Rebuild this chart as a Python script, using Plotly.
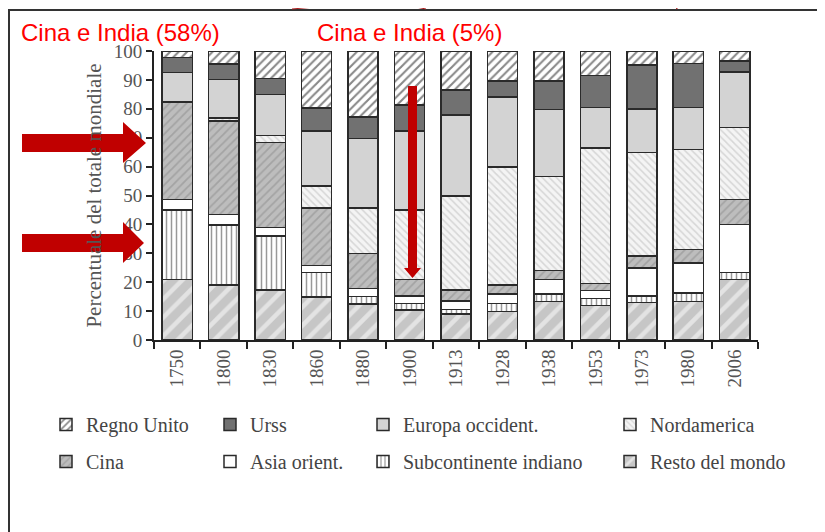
import plotly.graph_objects as go

years = ["1750", "1800", "1830", "1860", "1880", "1900", "1913", "1928",
         "1938", "1953", "1973", "1980", "2006"]

resto_del_mondo = [21.0, 19.0, 17.3, 14.8, 12.5, 10.4, 9.0, 9.8, 13.3, 11.9, 13.0, 13.3, 21.0]
subcontinente_indiano = [24.0, 20.8, 18.7, 8.6, 2.5, 2.3, 1.6, 2.9, 2.6, 2.5, 2.2, 2.9, 2.3]
asia_orient = [3.7, 3.7, 2.9, 2.3, 2.9, 2.5, 2.9, 3.2, 5.1, 2.7, 9.8, 10.5, 16.7]
cina = [33.7, 32.3, 29.5, 19.9, 12.1, 5.8, 3.8, 3.1, 3.0, 2.5, 4.1, 4.7, 8.7]
nordamerica = [0.0, 1.1, 2.3, 7.7, 15.6, 24.0, 32.6, 40.8, 32.5, 46.9, 35.7, 34.6, 24.9]
europa_occident = [10.1, 13.3, 14.3, 19.1, 24.1, 27.4, 28.0, 24.2, 23.3, 13.9, 15.1, 14.4, 19.2]
urss = [5.3, 5.3, 5.5, 7.8, 7.4, 8.9, 8.6, 5.6, 9.9, 11.1, 15.3, 15.3, 3.7]
regno_unito = [2.2, 4.5, 9.5, 19.8, 22.9, 18.7, 13.5, 10.4, 10.3, 8.5, 4.8, 4.3, 3.5]

y_ticks = [0, 10, 20, 30, 40, 50, 60, 70, 80, 90, 100]

# the page body has an 8px margin: work in reference-pixel coordinates, shifted
OFF = 8
W, H = 825 - OFF, 532 - OFF
ML, MT = 154 - OFF, 51 - OFF
MR = W - (758 - OFF)
MB = H - (340 - OFF)
PW, PH = W - ML - MR, H - MT - MB


def px(x):
    return (x - OFF - ML) / PW


def py(y):
    return (H - MB - (y - OFF)) / PH


SERIF = "Liberation Serif"
OUTLINE = dict(color="#2a2a2a", width=1.5)

# name, values, colour, pattern, legend column, rank in column
series = [
    ("Resto del mondo", resto_del_mondo, "#c6c6c6",
     dict(shape="/", fgcolor="white", bgcolor="#c6c6c6", size=13, solidity=0.35), "legend4", 2),
    ("Subcontinente indiano", subcontinente_indiano, "white",
     dict(shape="|", fgcolor="#333333", bgcolor="white", size=5, solidity=0.3), "legend3", 2),
    ("Asia orient.", asia_orient, "white", None, "legend2", 2),
    ("Cina", cina, "#bdbdbd",
     dict(shape="/", fgcolor="#8a8a8a", bgcolor="#bdbdbd", size=6, solidity=0.3), "legend", 2),
    ("Nordamerica", nordamerica, "#f2f2f2",
     dict(shape="\\", fgcolor="#b8b8b8", bgcolor="#f4f4f4", size=5, solidity=0.3), "legend4", 1),
    ("Europa occident.", europa_occident, "#d3d3d3", None, "legend3", 1),
    ("Urss", urss, "#717171", None, "legend2", 1),
    ("Regno Unito", regno_unito, "white",
     dict(shape="/", fgcolor="#111111", bgcolor="white", size=6, solidity=0.35), "legend", 1),
]

fig = go.Figure()
for name, vals, color, pattern, leg, rank in series:
    marker = dict(color=color, line=OUTLINE)
    if pattern:
        marker["pattern"] = pattern
    fig.add_trace(go.Bar(x=years, y=vals, name=name, marker=marker,
                         legend=leg, legendgroup=name, legendrank=rank,
                         hoverinfo="skip"))

leg_common = dict(orientation="v", traceorder="grouped", tracegroupgap=8,
                  font=dict(family=SERIF, size=20, color="#444444"),
                  bgcolor="rgba(0,0,0,0)", yanchor="top", xanchor="left",
                  xref="paper", yref="paper")

fig.update_layout(
    width=W, height=H,
    margin=dict(l=ML, r=MR, t=MT, b=MB, autoexpand=False),
    barmode="stack", bargap=0.35,
    plot_bgcolor="white", paper_bgcolor="white",
    showlegend=True,
    legend=dict(x=px(46), y=py(405), **leg_common),
    legend2=dict(x=px(210), y=py(405), **leg_common),
    legend3=dict(x=px(363), y=py(405), **leg_common),
    legend4=dict(x=px(610), y=py(405), **leg_common),
    xaxis=dict(type="category", tickson="boundaries", ticks="outside", ticklen=7,
               tickwidth=1.5, tickcolor="#222", showline=True, linecolor="#222",
               linewidth=2, tickangle=-90, showgrid=False,
               tickfont=dict(family=SERIF, size=19, color="#555555")),
    yaxis=dict(range=[0, 100], tickvals=y_ticks, ticks="outside", ticklen=6,
               tickwidth=1.5, tickcolor="#222", showline=True, linecolor="#222",
               linewidth=2, showgrid=False, zeroline=False,
               tickfont=dict(family=SERIF, size=19, color="#555555"),
               title=dict(text="Percentuale del totale mondiale", standoff=6,
                          font=dict(family=SERIF, size=21, color="#555555"))),
)


def path(points, close=True):
    s = "M " + " L ".join(f"{px(x):.5f},{py(y):.5f}" for x, y in points)
    return s + (" Z" if close else "")


RED = "#c00000"
shapes = []
# slide frame (top and left edges)
shapes.append(dict(type="path", xref="paper", yref="paper",
                   path=path([(9, 540), (9, 10), (830, 10)], close=False),
                   line=dict(color="#333", width=2)))

# horizontal arrows
for cy, tip in [(143, 146), (243, 144)]:
    pts = [(22, cy - 9), (123, cy - 9), (123, cy - 21), (tip, cy),
           (123, cy + 20), (123, cy + 9), (22, cy + 9)]
    shapes.append(dict(type="path", xref="paper", yref="paper", path=path(pts),
                       fillcolor=RED, line=dict(width=0)))
# vertical arrow
pts = [(408, 86), (417, 86), (417, 268), (421, 268), (412.5, 278), (404, 268), (408, 268)]
shapes.append(dict(type="path", xref="paper", yref="paper", path=path(pts),
                   fillcolor=RED, line=dict(width=0)))


# red curves peeking from above
def qcurve(p0, c, p1):
    return (f"M {px(p0[0]):.5f},{py(p0[1]):.5f} Q {px(c[0]):.5f},{py(c[1]):.5f} "
            f"{px(p1[0]):.5f},{py(p1[1]):.5f}")


for p0, c, p1 in [((33, 0), (45, 9), (120, 5)), ((120, 5), (180, 2), (200, 0)),
                  ((292, 9), (330, 6), (379, 0)), ((379, 0), (400, 4), (426, 9)),
                  ((676, 9), (683, 4), (690, 0)), ((750, 0), (753, 4), (757, 7))]:
    shapes.append(dict(type="path", xref="paper", yref="paper", path=qcurve(p0, c, p1),
                       fillcolor="rgba(0,0,0,0)", line=dict(color="#b02020", width=1)))
fig.update_layout(shapes=shapes)

for text, x in [("Cina e India (58%)", 19), ("Cina e India (5%)", 315)]:
    fig.add_annotation(text=text, xref="paper", yref="paper", x=px(x), y=py(33),
                       xanchor="left", yanchor="middle", showarrow=False,
                       font=dict(family="Liberation Sans", size=24, color="#ff0000"))

fig.write_html("out.html")
